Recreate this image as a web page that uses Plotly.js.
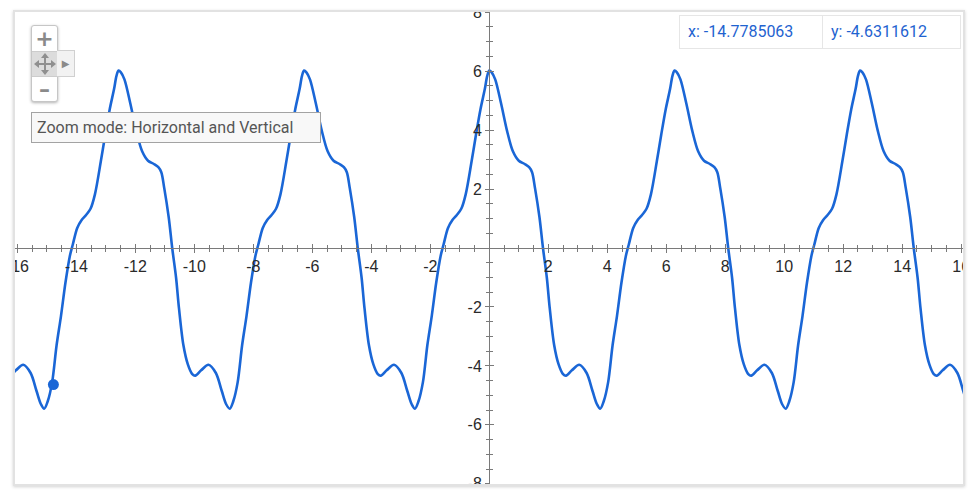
<!DOCTYPE html>
<html>
<head>
<meta charset="utf-8">
<script src="https://cdn.plot.ly/plotly-3.0.1.min.js"></script>
<style>
html,body{margin:0;padding:0;background:#fff;width:974px;height:495px;overflow:hidden;}
#frame{position:absolute;left:13px;top:10px;width:948px;height:472px;border:2px solid #e2e2e2;box-shadow:0 1px 3px rgba(0,0,0,0.18);overflow:hidden;background:#fff;}
#chart{width:948px;height:472px;}
.ov{position:absolute;box-sizing:border-box;}
</style>
</head>
<body>
<div id="frame"><div id="chart"></div></div>

<div class="ov" style="left:31px;top:25px;width:27px;height:77px;border:1px solid #c6c6c6;border-radius:3px;background:#fff;box-shadow:0 1px 3px rgba(0,0,0,0.3);overflow:hidden;">
  <div style="height:25px;line-height:25px;text-align:center;font:bold 22px 'DejaVu Sans';color:#8a8a8a;">+</div>
  <div style="height:26px;background:#dcdcdc;border-top:1px solid #ccc;border-bottom:1px solid #ccc;box-sizing:border-box;display:flex;align-items:center;justify-content:center;">
    <svg width="22" height="22" viewBox="0 0 22 22">
      <g fill="#8f8f8f" stroke="#8f8f8f" stroke-width="2">
        <line x1="11" y1="4" x2="11" y2="18"/>
        <line x1="4" y1="11" x2="18" y2="11"/>
      </g>
      <g fill="#8f8f8f">
        <polygon points="11,0 7,5 15,5"/>
        <polygon points="11,22 7,17 15,17"/>
        <polygon points="0,11 5,7 5,15"/>
        <polygon points="22,11 17,7 17,15"/>
      </g>
    </svg>
  </div>
  <div style="height:24px;line-height:24px;text-align:center;font:bold 22px 'DejaVu Sans';color:#8a8a8a;">&#8211;</div>
</div>
<div class="ov" style="left:57px;top:50px;width:18px;height:27px;background:#f2f2f2;border:1px solid #d0d0d0;border-left:none;font:10px 'DejaVu Sans';color:#8a8a8a;line-height:26px;text-align:center;">&#9654;</div>

<div class="ov" style="left:31px;top:112px;width:290px;height:31px;border:1px solid #a3a3a3;background:#f8f8f8;font:16px Roboto,'Liberation Sans',sans-serif;color:#555;line-height:29px;padding-left:5px;white-space:nowrap;">Zoom mode: Horizontal and Vertical</div>

<div class="ov" style="left:679px;top:15px;width:282px;height:34px;border:1px solid #e6e6e6;background:#fff;display:flex;font:16px Roboto,'Liberation Sans',sans-serif;color:#1f63d0;">
  <div id="rx" style="width:143px;border-right:1px solid #e6e6e6;padding-left:8px;line-height:32px;box-sizing:border-box;"></div>
  <div id="ry" style="padding-left:8px;line-height:32px;"></div>
</div>

<script>
// Curve samples, one typed list of x positions per period.
const xPartStart = [-16.50, -16.35, -16.25, -16.05, -15.80, -15.55, -15.35, -15.20];
const yPartStart = [-3.95, -4.28, -4.33, -4.15, -3.96, -4.24, -4.85, -5.3];

const xPeriodA = [-15.09, -14.97, -14.82, -14.67, -14.52, -14.37, -14.22, -14.12, -13.97, -13.82, -13.67, -13.52, -13.37, -13.17, -13.02, -12.87, -12.72, -12.64, -12.57, -12.49, -12.37, -12.17, -11.97, -11.77, -11.57, -11.37, -11.22, -11.12, -11.02, -10.87, -10.75, -10.62, -10.52, -10.37, -10.22, -10.07, -9.97, -9.77, -9.52, -9.27, -9.07, -8.92];
const xPeriodB = [-8.80, -8.68, -8.53, -8.38, -8.23, -8.08, -7.93, -7.83, -7.68, -7.53, -7.38, -7.23, -7.08, -6.88, -6.73, -6.58, -6.43, -6.35, -6.28, -6.20, -6.08, -5.88, -5.68, -5.48, -5.28, -5.08, -4.93, -4.83, -4.73, -4.58, -4.46, -4.33, -4.23, -4.08, -3.93, -3.78, -3.68, -3.48, -3.23, -2.98, -2.78, -2.63];
const xPeriodC = [-2.52, -2.4, -2.25, -2.1, -1.95, -1.8, -1.65, -1.55, -1.4, -1.25, -1.1, -0.95, -0.8, -0.6, -0.45, -0.3, -0.15, -0.07, 0, 0.08, 0.2, 0.4, 0.6, 0.8, 1.0, 1.2, 1.35, 1.45, 1.55, 1.7, 1.82, 1.95, 2.05, 2.2, 2.35, 2.5, 2.6, 2.8, 3.05, 3.3, 3.5, 3.65];
const xPeriodD = [3.76, 3.88, 4.03, 4.18, 4.33, 4.48, 4.63, 4.73, 4.88, 5.03, 5.18, 5.33, 5.48, 5.68, 5.83, 5.98, 6.13, 6.21, 6.28, 6.36, 6.48, 6.68, 6.88, 7.08, 7.28, 7.48, 7.63, 7.73, 7.83, 7.98, 8.10, 8.23, 8.33, 8.48, 8.63, 8.78, 8.88, 9.08, 9.33, 9.58, 9.78, 9.93];
const xPeriodE = [10.05, 10.17, 10.32, 10.47, 10.62, 10.77, 10.92, 11.02, 11.17, 11.32, 11.47, 11.62, 11.77, 11.97, 12.12, 12.27, 12.42, 12.50, 12.57, 12.65, 12.77, 12.97, 13.17, 13.37, 13.57, 13.77, 13.92, 14.02, 14.12, 14.27, 14.39, 14.52, 14.62, 14.77, 14.92, 15.07, 15.17, 15.37, 15.62, 15.87, 16.07, 16.22];
const yPeriodValues = [-5.45, -5.2, -4.55, -3.3, -2.3, -1.18, -0.27, 0.12, 0.68, 0.95, 1.12, 1.33, 1.82, 2.94, 3.85, 4.7, 5.4, 5.84, 6.02, 5.96, 5.72, 4.9, 3.98, 3.28, 2.96, 2.85, 2.74, 2.57, 2.03, 1.05, 0.0, -1.0, -2.05, -3.3, -3.95, -4.28, -4.33, -4.15, -3.96, -4.24, -4.85, -5.3];
const xPartEnd = [16.33, 16.45];
const yPartEnd = [-5.45, -5.2];

const cursorX = [-14.7785063];
const cursorY = [-4.6311612];

const xTickVals = [-16, -14, -12, -10, -8, -6, -4, -2, 2, 4, 6, 8, 10, 12, 14, 16];
const xTickText = ['-16', '-14', '-12', '-10', '-8', '-6', '-4', '-2', '2', '4', '6', '8', '10', '12', '14', '16'];
const yTickVals = [-8, -6, -4, -2, 2, 4, 6, 8];
const yTickText = ['-8', '-6', '-4', '-2', '2', '4', '6', '8'];

const curveX = [].concat(xPartStart, xPeriodA, xPeriodB, xPeriodC, xPeriodD, xPeriodE, xPartEnd);
const curveY = [].concat(yPartStart, yPeriodValues, yPeriodValues, yPeriodValues, yPeriodValues, yPeriodValues, yPartEnd);

document.getElementById('rx').textContent = 'x: ' + cursorX[0].toFixed(7);
document.getElementById('ry').textContent = 'y: ' + cursorY[0].toFixed(7);

const blue = '#1a66d6';
const axisColor = '#7a7a7a';
const tickFont = {family: "Liberation Sans, Arial, sans-serif", size: 16, color: '#2a2a2a'};

const traces = [
  {x: curveX, y: curveY, type: 'scatter', mode: 'lines',
   line: {color: blue, width: 2.6, shape: 'spline', smoothing: 0.9}, hoverinfo: 'skip'},
  {x: cursorX, y: cursorY, type: 'scatter', mode: 'markers',
   marker: {color: blue, size: 11}, hoverinfo: 'skip'},
  {x: [], y: [], xaxis: 'x2', yaxis: 'y2', type: 'scatter', mode: 'lines', hoverinfo: 'skip'}
];

const xr = [-16.08, 16.06];
const yr = [-8.005, 8.005];

const layout = {
  width: 948, height: 472,
  margin: {l: 0, r: 0, t: 0, b: 0},
  paper_bgcolor: '#fff', plot_bgcolor: '#fff',
  showlegend: false,
  xaxis: {
    range: xr, anchor: 'free', position: 0.5, showgrid: false, zeroline: false,
    showline: true, linecolor: axisColor, linewidth: 1,
    ticks: 'outside', ticklen: 4, tickwidth: 1, tickcolor: axisColor,
    tickmode: 'array', tickvals: xTickVals, ticktext: xTickText, tickfont: tickFont,
    ticklabeloverflow: 'allow',
    minor: {tickmode: 'linear', tick0: 0, dtick: 0.5, ticks: 'outside', ticklen: 3, tickcolor: axisColor, showgrid: false},
    fixedrange: true
  },
  yaxis: {
    range: yr, anchor: 'free', position: 0.5, showgrid: false, zeroline: false,
    showline: true, linecolor: axisColor, linewidth: 1,
    ticks: 'outside', ticklen: 4, tickwidth: 1, tickcolor: axisColor,
    tickmode: 'array', tickvals: yTickVals, ticktext: yTickText, tickfont: tickFont,
    ticklabeloverflow: 'allow',
    minor: {tickmode: 'linear', tick0: 0, dtick: 0.5, ticks: 'outside', ticklen: 3, tickcolor: axisColor, showgrid: false},
    fixedrange: true
  },
  xaxis2: {
    range: xr, overlaying: 'x', anchor: 'free', position: 0.5, side: 'bottom',
    showgrid: false, zeroline: false, showline: false, showticklabels: false,
    ticks: 'inside', ticklen: 4, tickwidth: 1, tickcolor: axisColor,
    tickmode: 'array', tickvals: xTickVals,
    minor: {tickmode: 'linear', tick0: 0, dtick: 0.5, ticks: 'inside', ticklen: 3, tickcolor: axisColor, showgrid: false},
    fixedrange: true
  },
  yaxis2: {
    range: yr, overlaying: 'y', anchor: 'free', position: 0.5, side: 'left',
    showgrid: false, zeroline: false, showline: false, showticklabels: false,
    ticks: 'inside', ticklen: 4, tickwidth: 1, tickcolor: axisColor,
    tickmode: 'array', tickvals: yTickVals,
    minor: {tickmode: 'linear', tick0: 0, dtick: 0.5, ticks: 'inside', ticklen: 3, tickcolor: axisColor, showgrid: false},
    fixedrange: true
  }
};

Plotly.newPlot('chart', traces, layout, {displayModeBar: false, staticPlot: true});
</script>
</body>
</html>
